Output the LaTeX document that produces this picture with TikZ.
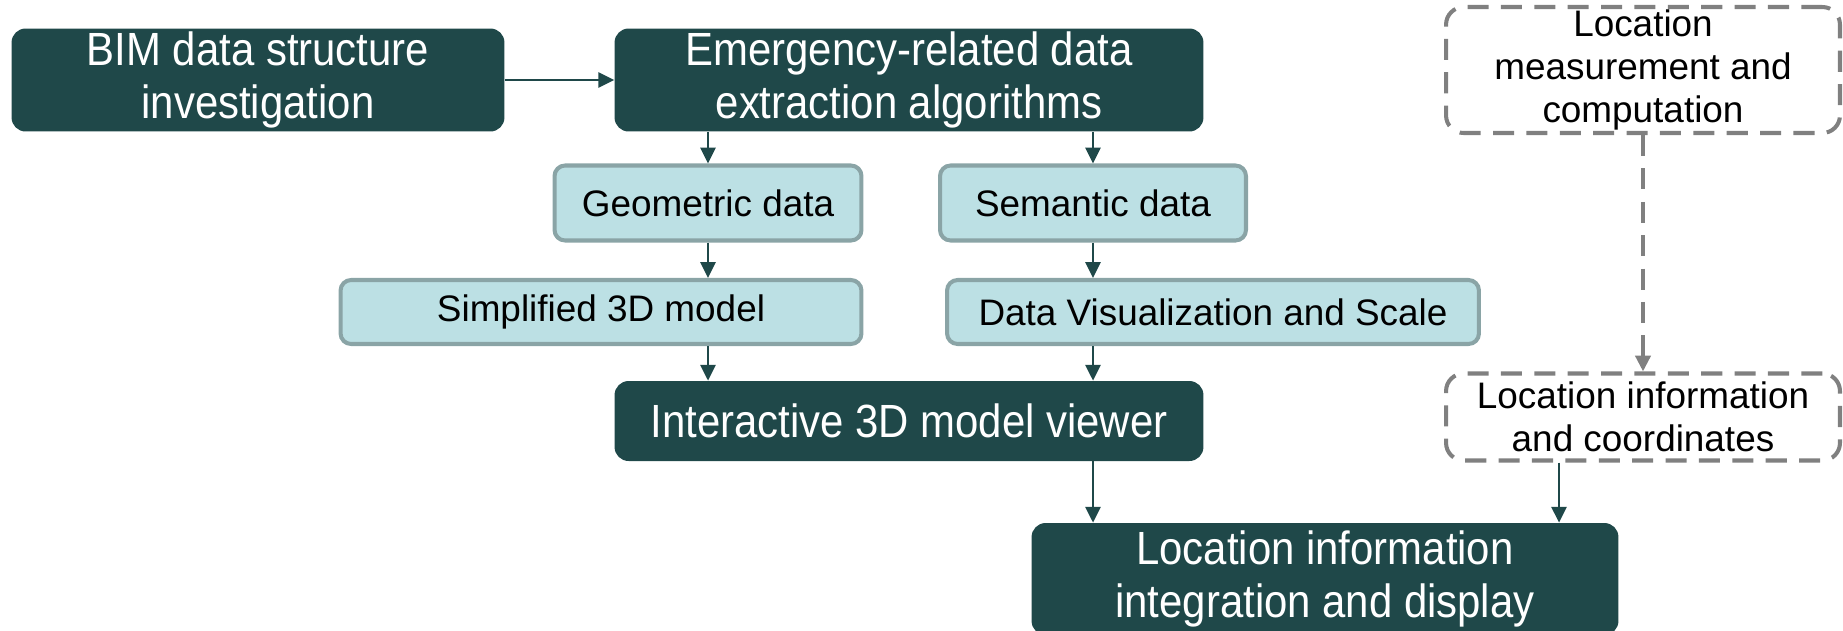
\documentclass[tikz,border=0pt]{standalone}
\usepackage{fontspec}
\setmainfont{Liberation Sans}
\newfontfamily\narrowsf[FakeStretch=0.9]{Liberation Sans}
\usepackage{tikz}
\usetikzlibrary{arrows.meta, positioning, calc}
\definecolor{cDark}{HTML}{1F4849}
\definecolor{cLight}{HTML}{BCE0E4}
\definecolor{cLightEdge}{HTML}{8AA4A6}
\definecolor{cDash}{HTML}{808080}

\begin{document}
\begin{tikzpicture}[x=0.02cm, y=0.02cm,
    >={Triangle[width=8.5pt,length=9pt]},
    mainbox/.style={
        rectangle, rounded corners=8pt, fill=cDark, draw=none,
        inner sep=0pt, text=white, align=center,
        font=\narrowsf\fontsize{26.5}{30}\selectfont
    },
    subbox/.style={
        rectangle, rounded corners=6pt, fill=cLight, draw=cLightEdge,
        line width=2.3pt, inner sep=0pt, text=black, align=center,
        font=\fontsize{21}{23.5}\selectfont
    },
    extbox/.style={
        rectangle, rounded corners=10pt, draw=cDash, line width=2.3pt,
        dash pattern=on 12pt off 7pt, inner sep=0pt, text=black,
        align=center, minimum width=7.88cm,
        font=\fontsize{21}{24.5}\selectfont
    },
    arr/.style={->, line width=1.6pt, color=cDark},
    darr/.style={->, line width=2.3pt, color=cDash, dash pattern=on 12pt off 7pt},
]
\useasboundingbox (0,0) rectangle (1843,-630);

% Row 1 - BIM data and extraction
\node[mainbox, minimum width=9.86cm, minimum height=2.06cm] (bim) at (258,-80)
    {BIM data structure\\investigation};
\node[mainbox, minimum width=11.78cm, minimum height=2.06cm] (extract) at (909,-80)
    {Emergency-related data\\extraction algorithms};

% Row 2 - data types
\node[subbox, minimum width=6.14cm, minimum height=1.5cm] (geom) at (708,-203) {Geometric data};
\node[subbox, minimum width=6.12cm, minimum height=1.5cm] (sem)  at (1093,-203) {Semantic data};

% Row 3 - processing
\node[subbox, minimum width=10.42cm, minimum height=1.28cm] (simple) at (601,-312) {Simplified 3D model};
\node[subbox, minimum width=10.64cm, minimum height=1.28cm] (visual) at (1213,-312) {Data Visualization and Scale};

% Row 4 - viewer
\node[mainbox, minimum width=11.78cm, minimum height=1.6cm] (viewer) at (909,-421)
    {Interactive 3D model viewer};

% Row 5 - integration
\node[mainbox, minimum width=11.74cm, minimum height=2.24cm] (integ) at (1325,-579)
    {Location information\\integration and display};

% Right column - location source (dashed)
\node[extbox, minimum height=2.52cm] (measure) at (1643,-70)
    {Location\\measurement and\\computation};
\node[extbox, minimum height=1.74cm] (locinfo) at (1643,-417)
    {Location information\\and coordinates};

% Arrows - main flow
\draw[arr] (bim) -- (extract);
\draw[arr] (extract.south -| geom.north) -- (geom.north);
\draw[arr] (extract.south -| sem.north)  -- (sem.north);
\draw[arr] (geom.south) -- (geom.south |- simple.north);
\draw[arr] (sem.south)  -- (sem.south |- visual.north);
\draw[arr] (geom.south |- simple.south) -- (geom.south |- viewer.north);
\draw[arr] (sem.south |- visual.south)  -- (sem.south |- viewer.north);
\draw[arr] (viewer.south -| sem.south) -- (integ.north -| sem.south);

% Arrows - location source
\draw[darr] (measure.south) -- (locinfo.north);
\draw[arr] ([xshift=-1.68cm]locinfo.south) -- ([xshift=-1.68cm]locinfo.south |- integ.north);

\end{tikzpicture}
\end{document}
